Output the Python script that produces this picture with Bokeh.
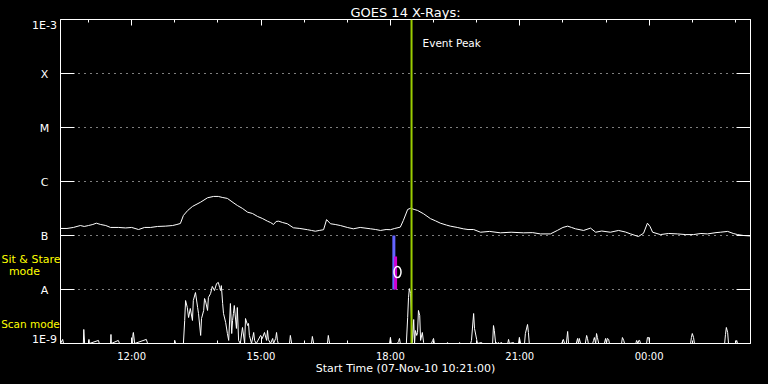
from bokeh.plotting import figure
from bokeh.layouts import row
from bokeh.models import FixedTicker, LinearAxis, LogAxis, Label, Span, CustomJSTickFormatter
from bokeh.embed import file_html
from bokeh.resources import INLINE

# ---------------- data ----------------
title_text = "GOES 14 X-Rays:"
x_axis_title = "Start Time (07-Nov-10 10:21:00)"

# time axis in hours of day (24+ = next day)
x_start, x_end = 10.35, 26.35
x_major_hours = [12, 15, 18, 21, 24]
x_major_labels = ["12:00", "15:00", "18:00", "21:00", "00:00"]
x_minor_hours = [11, 12, 13, 14, 15, 16, 17, 18, 19, 20, 21, 22, 23, 24, 25, 26]

# flux levels (W/m^2) and class labels
y_levels = [1e-9, 1e-8, 1e-7, 1e-6, 1e-5, 1e-4, 1e-3]
y_labels = ["1E-9", "A", "B", "C", "M", "X", "1E-3"]
grid_levels = [1e-8, 1e-7, 1e-6, 1e-5, 1e-4]

# long channel (units of 1e-7 W/m^2)
long_t = [10.35, 10.50, 10.65, 10.81, 10.90, 11.00, 11.10, 11.18, 11.28, 11.40,
          11.51, 11.70, 11.86, 12.00, 12.16, 12.30, 12.44, 12.60, 12.78, 12.95,
          13.05, 13.13, 13.20, 13.30, 13.41, 13.60, 13.76, 13.90, 14.01, 14.10,
          14.22, 14.35, 14.45, 14.57, 14.69, 14.80, 14.92, 15.03, 15.15, 15.22,
          15.29, 15.35, 15.41, 15.50, 15.61, 15.75, 15.90, 16.08, 16.17, 16.26,
          16.35, 16.45, 16.52, 16.61, 16.72, 16.84, 17.00, 17.14, 17.30, 17.54,
          17.66, 17.77, 17.90, 18.00, 18.10, 18.23, 18.30, 18.40, 18.47, 18.55,
          18.63, 18.77, 18.93, 19.05, 19.16, 19.30, 19.39, 19.55, 19.69, 19.80,
          19.93, 20.09, 20.30, 20.55, 20.80, 21.09, 21.30, 21.48, 21.71, 21.87,
          22.00, 22.11, 22.20, 22.29, 22.48, 22.64, 22.76, 22.90, 23.10, 23.29,
          23.45, 23.57, 23.75, 23.87, 23.96, 24.02, 24.08, 24.26, 24.45, 24.66,
          24.85, 25.03, 25.20, 25.35, 25.55, 25.65, 25.82, 25.95, 26.05, 26.19,
          26.35]
long_1e7 = [1.35, 1.35, 1.41, 1.53, 1.47, 1.53, 1.60, 1.69, 1.60, 1.53,
            1.41, 1.41, 1.38, 1.41, 1.29, 1.41, 1.41, 1.47, 1.49, 1.53,
            1.60, 1.67, 2.35, 2.91, 3.45, 4.15, 5.00, 5.29, 5.29, 5.07,
            4.86, 4.09, 3.60, 3.17, 2.70, 2.56, 2.25, 2.07, 1.84, 1.74,
            1.60, 1.82, 1.84, 1.74, 1.65, 1.39, 1.35, 1.28, 1.24, 1.20,
            1.24, 1.28, 1.97, 1.65, 1.60, 1.53, 1.41, 1.33, 1.41, 1.33,
            1.29, 1.24, 1.29, 1.28, 1.35, 1.43, 1.90, 3.04, 3.20, 3.04,
            2.91, 2.52, 2.05, 1.86, 1.69, 1.56, 1.49, 1.41, 1.33, 1.29,
            1.29, 1.15, 1.19, 1.12, 1.15, 1.12, 1.13, 1.07, 1.07, 1.24,
            1.41, 1.49, 1.41, 1.33, 1.24, 1.37, 1.15, 1.21, 1.15, 1.24,
            1.16, 1.07, 0.958, 1.10, 1.69, 1.47, 1.15, 1.04, 1.09, 1.07,
            1.04, 1.04, 1.09, 1.07, 1.13, 1.15, 1.19, 1.09, 1.04, 1.00,
            0.98]

# short channel (units of 1e-9 W/m^2)
short_t = [10.35, 10.40, 10.42, 10.88, 10.89, 10.91, 11.00, 11.01, 11.02, 11.23, 11.25, 11.51, 11.52,
           11.53, 11.69, 11.72, 12.02, 12.03, 12.04, 12.07, 12.34, 12.37, 12.99, 13.00, 13.02, 13.20,
           13.23, 13.25, 13.29, 13.32, 13.36, 13.41, 13.43, 13.48, 13.53, 13.55,
           13.60, 13.62, 13.67, 13.69, 13.71, 13.76, 13.78, 13.83, 13.87, 13.92,
           13.97, 14.01, 14.04, 14.06, 14.08, 14.11, 14.13, 14.18, 14.22, 14.25,
           14.29, 14.32, 14.34, 14.36, 14.38, 14.43, 14.45, 14.48, 14.52, 14.57,
           14.62, 14.64, 14.69, 14.71, 14.73, 14.78, 14.83, 14.85, 14.89, 14.99,
           15.03, 15.08, 15.13, 15.15, 15.17, 15.22, 15.27, 15.29, 15.34, 15.36, 15.38, 15.40,
           15.66, 15.68, 15.71, 16.17, 16.19, 16.22, 16.54, 16.56, 16.59, 17.98, 18.00, 18.02,
           18.16, 18.19, 18.21, 18.23,
           18.37, 18.40, 18.42, 18.44, 18.47, 18.49, 18.51, 18.54, 18.56, 18.58,
           18.61, 18.63, 18.65, 18.68, 18.70, 18.74, 18.77, 18.79,
           18.95, 18.98, 19.00, 19.02, 19.30, 19.32, 19.35, 19.58, 19.60, 19.63,
           19.86, 19.88, 19.93, 19.95, 20.00, 20.02, 20.11, 20.14,
           20.37, 20.39, 20.41, 20.44, 20.46, 20.48, 20.51, 20.53, 20.58, 20.60,
           20.72, 20.74, 20.76, 20.85, 20.88, 20.97, 20.99, 21.02,
           21.11, 21.13, 21.18, 21.20, 21.22,
           21.97, 21.99, 22.01, 22.04, 22.08, 22.11, 22.13,
           22.31, 22.34, 22.36, 22.38, 22.41, 22.52, 22.55, 22.57, 22.59,
           22.69, 22.71, 22.73, 22.76, 22.78, 22.80, 22.83,
           22.96, 22.99, 23.01, 23.03, 23.06, 23.08,
           23.36, 23.38, 23.41, 23.43, 23.69, 23.71, 23.74, 23.76, 23.78, 23.80,
           23.94, 23.96, 23.99, 24.01,
           24.96, 24.98, 25.00, 25.03, 25.05,
           25.75, 25.77, 25.79, 25.82, 25.84, 26.00, 26.03, 26.05, 26.35]
short_1e9 = [1.0, 1.19, 1.0, 1.0, 1.82, 1.0, 1.0, 1.19, 1.0, 1.14, 1.0, 1.0, 1.47,
             1.0, 1.14, 1.0, 1.0, 1.47, 1.60, 1.0, 1.19, 1.0, 1.0, 1.14, 1.0, 1.0,
             2.67, 6.25, 4.64, 3.03, 4.45, 2.67, 6.25, 8.78, 4.64, 3.59,
             1.41, 2.90, 4.09, 6.81, 6.25, 4.09, 7.11, 8.41, 11.4, 9.57,
             12.9, 13.5, 10.9, 9.57, 11.8, 5.50, 3.59, 2.45, 1.53, 1.14,
             5.50, 1.53, 2.67, 3.59, 5.05, 1.90, 4.64, 1.14, 1.0, 1.98,
             1.0, 2.90, 2.15, 2.35, 1.41, 1.0, 1.60, 1.14, 1.0, 1.41,
             1.24, 1.60, 1.14, 1.74, 1.19, 1.0, 1.24, 1.0, 1.24, 1.60, 1.14, 1.0,
             1.0, 1.41, 1.0, 1.0, 1.35, 1.0, 1.0, 1.41, 1.0, 1.0, 1.29, 1.0,
             1.0, 1.09, 1.24, 1.0,
             1.0, 3.03, 7.11, 10.4, 8.41, 2.67, 1.04, 2.78, 1.0, 1.74,
             1.41, 1.60, 4.09, 3.30, 1.14, 1.60, 1.04, 1.0,
             1.0, 1.14, 1.24, 1.0, 1.0, 1.04, 1.0, 1.0, 1.04, 1.0,
             1.0, 1.14, 3.59, 1.90, 1.19, 1.0, 1.04, 1.0,
             1.0, 2.15, 1.74, 1.0, 1.04, 1.0, 1.04, 1.0, 1.04, 1.0,
             1.0, 1.19, 1.0, 1.04, 1.0, 1.0, 1.29, 1.0,
             1.0, 1.53, 2.25, 1.60, 1.0,
             1.0, 1.09, 1.19, 1.0, 1.0, 1.67, 1.0,
             1.0, 1.24, 1.0, 1.24, 1.0, 1.0, 1.41, 1.24, 1.0,
             1.0, 1.14, 1.29, 1.0, 1.53, 1.29, 1.0,
             1.0, 1.24, 1.0, 1.24, 1.19, 1.0,
             1.0, 1.29, 1.14, 1.0, 1.0, 1.14, 1.0, 1.14, 1.14, 1.0,
             1.0, 1.29, 1.29, 1.0,
             1.0, 1.29, 1.53, 1.29, 1.0,
             1.0, 1.47, 1.98, 1.60, 1.0, 1.0, 1.14, 1.0, 1.0]

# observation-mode bars (sit & stare) and event marker
obs_t = [18.08, 18.12]
obs_bottom = [1.0e-8, 1.0e-8]
obs_top = [1.0e-7, 4.1e-8]
obs_colors = ["#6464ff", "#d000d0"]
obs_marker_t = [18.165]
obs_marker_flux = [2.1e-8]
event_peak_t = 18.49

# mode band labels (placed at flux heights)
mode_texts = ["Sit & Stare", "mode", "Scan mode"]
mode_flux = [3.6e-8, 2.2e-8, 2.3e-9]

long_flux = [v * 1e-7 for v in long_1e7]
short_flux = [v * 1e-9 for v in short_1e9]

# ---------------- common ----------------
FONT = "DejaVu Sans"
EMPTY = "return ''"
TOP, BOTTOM = 19, 41
BLACK = {"background-color": "black"}

# ---------------- left label strip ----------------
lab = figure(width=60, height=384, x_range=(0, 60), y_range=(1e-9, 1e-3),
             y_axis_type="log", output_backend="svg", toolbar_location=None,
             x_axis_location=None, y_axis_location=None,
             min_border_left=0, min_border_right=0, min_border_top=TOP, min_border_bottom=BOTTOM,
             background_fill_color="black", border_fill_color="black",
             outline_line_color=None, styles=BLACK)
lab.xgrid.visible = False
lab.ygrid.visible = False

offsets = {0: 4, len(y_levels) - 1: -6}
for i, (lev, txt) in enumerate(zip(y_levels, y_labels)):
    lab.add_layout(Label(x=44, y=lev, text=txt, y_offset=offsets.get(i, -1),
                         text_align="center", text_baseline="middle",
                         text_color="white", text_font=FONT, text_font_size="11px"))
for txt, fl, cx, fs in zip(mode_texts, mode_flux, [30.5, 24, 30], ["11px", "11px", "10.5px"]):
    lab.add_layout(Label(x=cx, y=fl, text=txt,
                         text_align="center", text_baseline="middle", text_color="#ffff00",
                         text_font=FONT, text_font_size=fs))

# ---------------- main plot ----------------
p = figure(width=708, height=384, x_range=(x_start, x_end), y_range=(1e-9, 1e-3),
           y_axis_type="log", output_backend="svg", toolbar_location=None,
           min_border_left=0, min_border_right=18, min_border_top=TOP, min_border_bottom=BOTTOM,
           background_fill_color="black", border_fill_color="black",
           outline_line_color="white", styles=BLACK)

p.title.text = title_text
p.title.align = "center"
p.title.text_color = "white"
p.title.text_font = FONT
p.title.text_font_size = "13px"
p.title.text_font_style = "normal"
p.title.standoff = 0
p.title.offset = -3

# grids
p.xgrid.grid_line_color = None
p.ygrid.ticker = FixedTicker(ticks=grid_levels)
p.ygrid.grid_line_color = "white"
p.ygrid.grid_line_dash = "1 5"
p.ygrid.grid_line_width = 1

# bottom axis
xax = p.xaxis[0]
xax.ticker = FixedTicker(ticks=x_major_hours, minor_ticks=x_minor_hours)
xax.major_label_overrides = dict(zip(x_major_hours, x_major_labels))
xax.axis_label = x_axis_title
xax.axis_line_color = "white"
xax.major_tick_line_color = "white"
xax.minor_tick_line_color = "white"
xax.major_tick_in = 6
xax.major_tick_out = 0
xax.minor_tick_in = 3
xax.minor_tick_out = 0
xax.major_label_text_color = "white"
xax.major_label_text_font = FONT
xax.major_label_text_font_size = "10px"
xax.major_label_standoff = 7
xax.axis_label_text_color = "white"
xax.axis_label_text_font = FONT
xax.axis_label_text_font_size = "11px"
xax.axis_label_text_font_style = "normal"
xax.axis_label_standoff = -3

# top axis: ticks only
top = LinearAxis(ticker=FixedTicker(ticks=x_major_hours, minor_ticks=x_minor_hours),
                 formatter=CustomJSTickFormatter(code=EMPTY),
                 axis_line_color="white", major_tick_line_color="white",
                 minor_tick_line_color="white", major_tick_in=6, major_tick_out=0,
                 minor_tick_in=3, minor_tick_out=0, major_label_standoff=3,
                 major_label_text_font_size="0px")
p.add_layout(top, "above")

# left / right axes: ticks only (labels are in the strip on the left)
yax = p.yaxis[0]
yax.ticker = FixedTicker(ticks=y_levels)
yax.formatter = CustomJSTickFormatter(code=EMPTY)
right = LogAxis(ticker=FixedTicker(ticks=y_levels),
                formatter=CustomJSTickFormatter(code=EMPTY))
p.add_layout(right, "right")
for ax in [yax, right]:
    ax.axis_line_color = None
    ax.major_tick_line_color = "white"
    ax.minor_tick_line_color = None
    ax.major_tick_in = 14
    ax.major_tick_out = 0
    ax.major_label_standoff = 0
    ax.major_label_text_font_size = "0px"

# traces
p.line(long_t, long_flux, line_color="white", line_width=1)
p.line(short_t, short_flux, line_color="white", line_width=1)

# sit & stare bars and marker
p.segment(x0=obs_t, y0=obs_bottom, x1=obs_t, y1=obs_top, line_color=obs_colors, line_width=3)
p.ellipse(x=obs_marker_t, y=obs_marker_flux, width=7, height=11,
          width_units="screen", height_units="screen",
          fill_color=None, line_color="white", line_width=1.5)

# event peak line
p.add_layout(Span(location=event_peak_t, dimension="height", line_color="#9acd00", line_width=2))
p.add_layout(Label(x=event_peak_t, y=1e-3, x_offset=11, y_offset=-23.5, text="Event Peak",
                   text_align="left", text_baseline="middle", text_color="white",
                   text_font=FONT, text_font_size="10.5px"))

layout = row(lab, p, spacing=0, styles=BLACK)
open("out.html", "w").write(file_html(layout, INLINE))
